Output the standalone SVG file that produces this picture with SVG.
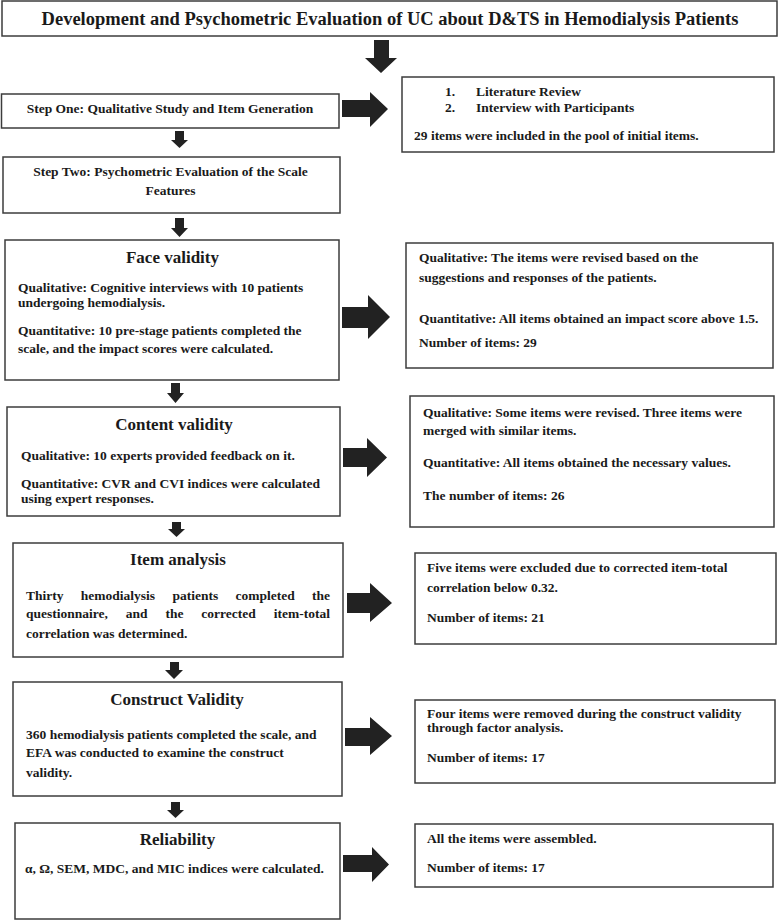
<svg xmlns="http://www.w3.org/2000/svg" width="778" height="921" viewBox="0 0 778 921">
<style>
  .box { fill: #ffffff; stroke: #3c3c3c; stroke-width: 1.5; }
  .t { font-family: "Liberation Serif", "Times New Roman", serif; font-weight: bold; fill: #1a1a1a; font-size: 13.5px; }
  .h { font-size: 17px; text-anchor: middle; }
  .c { text-anchor: middle; }
  .e { text-anchor: end; }
  .title { font-size: 18.5px; text-anchor: middle; }
  .arr { fill: #222222; }
</style>
<rect width="778" height="921" fill="#ffffff"/>

<g id="title">
  <rect class="box" x="2" y="1" width="775" height="35"/>
  <text class="t title" x="390" y="25">Development and Psychometric Evaluation of UC about D&amp;TS in Hemodialysis Patients</text>
</g>

<g id="step-one">
  <rect class="box" x="1.5" y="94" width="337.5" height="34"/>
  <text class="t c" x="170" y="113">Step One: Qualitative Study and Item Generation</text>
</g>

<g id="step-one-result">
  <rect class="box" x="402" y="77" width="372" height="75"/>
  <text class="t" x="445" y="96">1.</text>
  <text class="t" x="476" y="96">Literature Review</text>
  <text class="t" x="445" y="112">2.</text>
  <text class="t" x="476" y="112">Interview with Participants</text>
  <text class="t" x="414" y="140">29 items were included in the pool of initial items.</text>
</g>

<g id="step-two">
  <rect class="box" x="3" y="157" width="337" height="56"/>
  <text class="t c" x="170.5" y="176">Step Two: Psychometric Evaluation of the Scale</text>
  <text class="t c" x="170.5" y="195">Features</text>
</g>

<g id="face-validity">
  <rect class="box" x="5" y="240" width="334" height="140"/>
  <text class="t h" x="172.5" y="263">Face validity</text>
  <text class="t" x="18" y="292">Qualitative: Cognitive interviews with 10 patients</text>
  <text class="t" x="18" y="307">undergoing hemodialysis.</text>
  <text class="t" x="18" y="335">Quantitative: 10 pre-stage patients completed the</text>
  <text class="t" x="18" y="353">scale, and the impact scores were calculated.</text>
</g>

<g id="face-validity-result">
  <rect class="box" x="406" y="243" width="367" height="125"/>
  <text class="t" x="419" y="262">Qualitative: The items were revised based on the</text>
  <text class="t" x="419" y="282">suggestions and responses of the patients.</text>
  <text class="t" x="419" y="323">Quantitative: All items obtained an impact score above 1.5.</text>
  <text class="t" x="419" y="347">Number of items: 29</text>
</g>

<g id="content-validity">
  <rect class="box" x="7" y="407" width="333" height="109"/>
  <text class="t h" x="174" y="430">Content validity</text>
  <text class="t" x="21" y="460">Qualitative: 10 experts provided feedback on it.</text>
  <text class="t" x="21" y="488">Quantitative: CVR and CVI indices were calculated</text>
  <text class="t" x="21" y="503">using expert responses.</text>
</g>

<g id="content-validity-result">
  <rect class="box" x="410" y="396" width="364" height="131"/>
  <text class="t" x="423" y="417">Qualitative: Some items were revised. Three items were</text>
  <text class="t" x="423" y="435">merged with similar items.</text>
  <text class="t" x="423" y="467">Quantitative: All items obtained the necessary values.</text>
  <text class="t" x="423" y="500">The number of items: 26</text>
</g>

<g id="item-analysis">
  <rect class="box" x="13" y="543" width="330" height="114"/>
  <text class="t h" x="178" y="565">Item analysis</text>
  <text class="t" y="600"><tspan x="26">Thirty</tspan><tspan x="80.8">hemodialysis</tspan><tspan x="172.4">patients</tspan><tspan x="235.5">completed</tspan></text>
  <text class="t e" x="330" y="600">the</text>
  <text class="t" y="618"><tspan x="26">questionnaire,</tspan><tspan x="125.8">and</tspan><tspan x="165.4">the</tspan><tspan x="201.3">corrected</tspan></text>
  <text class="t e" x="330" y="618">item-total</text>
  <text class="t" x="26" y="638">correlation was determined.</text>
</g>

<g id="item-analysis-result">
  <rect class="box" x="415" y="553" width="361" height="91"/>
  <text class="t" x="427" y="572">Five items were excluded due to corrected item-total</text>
  <text class="t" x="427" y="592">correlation below 0.32.</text>
  <text class="t" x="427" y="622">Number of items: 21</text>
</g>

<g id="construct-validity">
  <rect class="box" x="13" y="682" width="329" height="114"/>
  <text class="t h" x="177" y="705">Construct Validity</text>
  <text class="t" x="26" y="739">360 hemodialysis patients completed the scale, and</text>
  <text class="t" x="26" y="757">EFA was conducted to examine the construct</text>
  <text class="t" x="26" y="777">validity.</text>
</g>

<g id="construct-validity-result">
  <rect class="box" x="415" y="700" width="360" height="83"/>
  <text class="t" x="427" y="718">Four items were removed during the construct validity</text>
  <text class="t" x="427" y="732">through factor analysis.</text>
  <text class="t" x="427" y="762">Number of items: 17</text>
</g>

<g id="reliability">
  <rect class="box" x="15" y="823" width="325" height="96"/>
  <text class="t h" x="177.5" y="845">Reliability</text>
  <text class="t c" x="174.5" y="873">α, Ω, SEM, MDC, and MIC indices were calculated.</text>
</g>

<g id="reliability-result">
  <rect class="box" x="415" y="824" width="358" height="63"/>
  <text class="t" x="427" y="843">All the items were assembled.</text>
  <text class="t" x="427" y="872">Number of items: 17</text>
</g>

<g id="connectors">
  <polygon class="arr" points="374,40 389,40 389,58 397,58 381,73 365,58 374,58"/>
  <polygon class="arr" points="175,131 184,131 184,140 188,140 179.5,148 171,140 175,140"/>
  <polygon class="arr" points="175,218 184,218 184,228 188,228 179.5,237 171,228 175,228"/>
  <polygon class="arr" points="171,383 180,383 180,393 184,393 175.5,403 167,393 171,393"/>
  <polygon class="arr" points="172,522 181,522 181,529 185,529 176.5,537 168,529 172,529"/>
  <polygon class="arr" points="170,662 179,662 179,670 183,670 174,679 165,670 170,670"/>
  <polygon class="arr" points="171,802 180,802 180,810 184,810 175.5,818 167,810 171,810"/>
  <polygon class="arr" points="342,100 370,100 370,92 388,109 370,127 370,117 342,117"/>
  <polygon class="arr" points="342,307 368,307 368,295 390,317 368,339 368,328 342,328"/>
  <polygon class="arr" points="343,448 367,448 367,438 387,457.5 367,477 367,467 343,467"/>
  <polygon class="arr" points="347,593 370,593 370,583 392,603 370,622 370,613 347,613"/>
  <polygon class="arr" points="345,728 370,728 370,717 392,736 370,755 370,746 345,746"/>
  <polygon class="arr" points="343,855 372,855 372,847 389,864.5 372,882 372,872 343,872"/>
</g>
</svg>
